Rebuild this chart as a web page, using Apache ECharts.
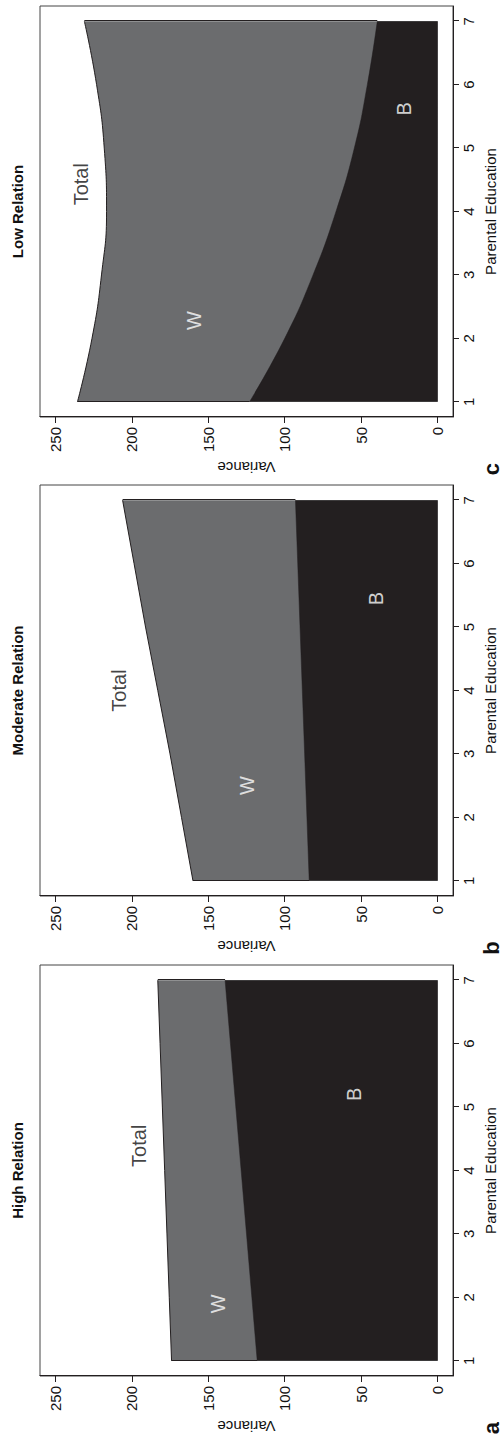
<!DOCTYPE html>
<html>
<head>
<meta charset="utf-8">
<script src="https://cdn.jsdelivr.net/npm/echarts@6/dist/echarts.min.js"></script>
<style>
html,body{margin:0;padding:0;width:503px;height:1438px;overflow:hidden;background:#fff;}
#chart{position:absolute;left:0;top:0;width:1438px;height:503px;transform-origin:0 0;transform:translate(0px,1438px) rotate(-90deg);}
</style>
</head>
<body>
<div id="chart"></div>
<script>
// ---- data ----
const eduLevels = [1, 2, 3, 4, 5, 6, 7];
const highTotal = [174, 175.5, 177, 178.5, 180, 181.5, 183];
const highB     = [118, 121.5, 125, 128.5, 132, 135.5, 139];
const modTotal  = [160, 167.5, 175, 183, 191, 198.5, 206];
const modB      = [84, 85.5, 87, 88.5, 90, 91.5, 93];
const lowTotal  = [235.5, 226, 219.8, 216.5, 218, 223, 231];
const lowB      = [123, 100, 81.5, 66.5, 54.5, 46, 39.5];
const varianceTicks = [0, 50, 100, 150, 200, 250];
const eduTicks = [1, 2, 3, 4, 5, 6, 7];
const panelTitles = ['High Relation', 'Moderate Relation', 'Low Relation'];
const panelLetters = ['a', 'b', 'c'];
const regionLabels = ['Total', 'W', 'B'];
// label anchor points (data coords) for Total, W, B in each panel
const highLabelPos = [[4.39, 195.5], [1.9, 143.7], [5.2, 54.5]];
const modLabelPos  = [[4.0, 208.5], [2.5, 124.5], [5.45, 40.5]];
const lowLabelPos  = [[4.43, 233], [2.28, 159.4], [5.62, 22.2]];

// ---- layout / style ----
const panels = [
  {total: highTotal, b: highB, pos: highLabelPos, smooth: false},
  {total: modTotal, b: modB, pos: modLabelPos, smooth: false},
  {total: lowTotal, b: lowB, pos: lowLabelPos, smooth: 0.5}
];
const gridLefts = [62, 542, 1021];
const gridW = 411, gridTop = 40, gridH = 418;
const FONT = '"Liberation Sans", Arial, Helvetica, sans-serif';
const INK = '#231f20';
const TXT = '#111111';
const GRAY = '#6b6c6e';

const grids = [], xAxes = [], yAxes = [], series = [], graphics = [];

panels.forEach((p, i) => {
  grids.push({left: gridLefts[i], top: gridTop, width: gridW, height: gridH,
    show: true, borderColor: '#444', borderWidth: 1, backgroundColor: 'transparent'});
  xAxes.push({
    gridIndex: i, type: 'value', min: 0.76, max: 7.24,
    axisLine: {show: true, onZero: false, lineStyle: {color: INK, width: 1}},
    axisTick: {show: true, length: 6, customValues: eduTicks, lineStyle: {color: INK}},
    axisLabel: {show: true, customValues: eduTicks, margin: 8, color: TXT, fontSize: 15, fontFamily: FONT},
    splitLine: {show: false},
    name: 'Parental Education', nameLocation: 'middle', nameGap: 30,
    nameTextStyle: {color: TXT, fontSize: 15, fontFamily: FONT}
  });
  yAxes.push({
    gridIndex: i, type: 'value', min: -10, max: 260,
    axisLine: {show: true, onZero: false, lineStyle: {color: INK, width: 1}},
    axisTick: {show: true, length: 6, customValues: varianceTicks, lineStyle: {color: INK}},
    axisLabel: {show: true, customValues: varianceTicks, margin: 10, color: TXT, fontSize: 15, fontFamily: FONT},
    splitLine: {show: false},
    name: 'Variance', nameLocation: 'middle', nameGap: 43, nameRotate: 90,
    nameTextStyle: {color: TXT, fontSize: 15, fontFamily: FONT}
  });
  const n = eduLevels.length;
  series.push({
    type: 'line', xAxisIndex: i, yAxisIndex: i, smooth: p.smooth,
    symbol: 'none', silent: true, z: 2,
    data: eduLevels.map((x, k) => [x, p.total[k]]),
    lineStyle: {color: INK, width: 1},
    areaStyle: {color: GRAY, opacity: 1},
    markLine: {silent: true, symbol: 'none', label: {show: false},
      lineStyle: {color: INK, width: 1, type: 'solid'},
      data: [
        [{coord: [eduLevels[0], p.b[0]]}, {coord: [eduLevels[0], p.total[0]]}],
        [{coord: [eduLevels[n - 1], p.b[n - 1]]}, {coord: [eduLevels[n - 1], p.total[n - 1]]}]
      ]}
  });
  series.push({
    type: 'line', xAxisIndex: i, yAxisIndex: i, smooth: p.smooth,
    symbol: 'none', silent: true, z: 3,
    data: eduLevels.map((x, k) => [x, p.b[k]]),
    lineStyle: {color: INK, width: 0.5},
    areaStyle: {color: INK, opacity: 1}
  });
  series.push({
    type: 'scatter', xAxisIndex: i, yAxisIndex: i, symbolSize: 1, silent: true, z: 5,
    itemStyle: {color: 'rgba(0,0,0,0)'},
    data: regionLabels.map((t, k) => ({value: p.pos[k], name: t,
      label: {color: t === 'Total' ? TXT : '#ffffff'}})),
    label: {show: true, position: 'inside', formatter: d => d.name, fontSize: 20, fontFamily: FONT}
  });
  graphics.push({type: 'text', x: gridLefts[i] + gridW / 2, y: 17,
    style: {text: panelTitles[i], fill: TXT, font: 'bold 15px ' + FONT, textAlign: 'center', textVerticalAlign: 'middle'}});
  graphics.push({type: 'text', x: gridLefts[i] - 52, y: 491,
    style: {text: panelLetters[i], fill: TXT, font: 'bold 22px ' + FONT, textAlign: 'center', textVerticalAlign: 'middle'}});
});

const chart = echarts.init(document.getElementById('chart'), null, {renderer: 'svg', width: 1438, height: 503});
chart.setOption({
  animation: false,
  backgroundColor: '#ffffff',
  grid: grids, xAxis: xAxes, yAxis: yAxes, series: series, graphic: graphics
});
</script>
</body>
</html>
